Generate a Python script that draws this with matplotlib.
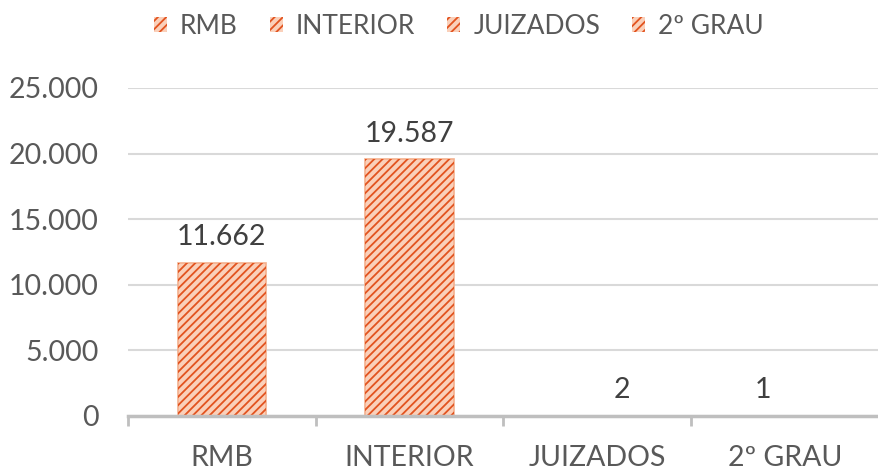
import numpy as np
import matplotlib
matplotlib.use("Agg")
import matplotlib.pyplot as plt
from matplotlib.patches import Patch

plt.rcParams["font.family"] = ["Lato", "DejaVu Sans"]
plt.rcParams["hatch.linewidth"] = 1.3

categories = ["RMB", "INTERIOR", "JUIZADOS", "2º GRAU"]
values = [11662, 19587, 2, 1]
value_labels = ["11.662", "19.587", "2", "1"]
yticks = [0, 5000, 10000, 15000, 20000, 25000]
ytick_labels = ["0", "5.000", "10.000", "15.000", "20.000", "25.000"]

FACE = "#FAD0BA"
HATCH = "#E2531F"
EDGE = "#F4B08E"
GRID = "#D9D9D9"
AXIS = "#BFBFBF"
TXT = "#595959"
LBL = "#404040"
FS = 20.5

fig = plt.figure(figsize=(8.79, 4.71), dpi=100)
ax = fig.add_axes([0.1456, 0.1168, 0.8544, 0.6964])

x = np.arange(len(categories))
ax.bar(x, values, width=0.47, color=FACE, edgecolor=EDGE, linewidth=1.2, zorder=2)
ax.bar(x, values, width=0.47, color="none", edgecolor=HATCH, hatch="////",
       linewidth=0, zorder=3)

# label offsets (in category units) to mimic the original placement
label_dx = [0, 0, 0.13, -0.12]
for xi, v, lab, dx in zip(x, values, value_labels, label_dx):
    ax.annotate(lab, (xi + dx, v), xytext=(0, 9), textcoords="offset points",
                ha="center", va="bottom", fontsize=FS, color=LBL)

ax.set_xlim(-0.5, 3.5)
ax.set_ylim(0, 25000)
ax.set_yticks(yticks)
ax.set_yticklabels(ytick_labels)
ax.set_xticks(x)
ax.set_xticklabels(categories)
ax.set_xticks(np.arange(-0.5, 4.0, 1.0), minor=True)
ax.tick_params(axis="x", which="major", length=0, pad=21, labelsize=FS, labelcolor=TXT)
ax.tick_params(axis="x", which="minor", length=7, width=2, color=AXIS)
ax.tick_params(axis="y", length=0, pad=21, labelsize=FS, labelcolor=TXT)

ax.yaxis.grid(True, color=GRID, linewidth=1.5, zorder=0)
ax.set_axisbelow(True)
for s in ["top", "right", "left"]:
    ax.spines[s].set_visible(False)
ax.spines["bottom"].set_color(AXIS)
ax.spines["bottom"].set_linewidth(2.5)
ax.spines["bottom"].set_zorder(4)

handles = [Patch(facecolor=FACE, edgecolor=HATCH, hatch="////", linewidth=0)
           for _ in categories]
fig.legend(handles, categories, loc="upper center", bbox_to_anchor=(0.522, 1.02),
           ncol=4, frameon=False, fontsize=19, labelcolor=TXT,
           handlelength=0.5, handleheight=0.5, handletextpad=0.5,
           columnspacing=1.2)

fig.savefig("out.png", dpi=100)
